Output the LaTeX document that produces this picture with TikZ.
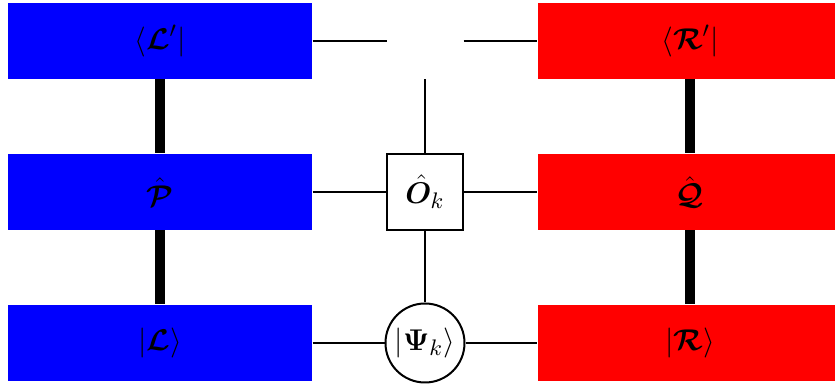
\documentclass[tikz,border=0pt]{standalone}
\usepackage{amsmath,bm}
\begin{document}
\begin{tikzpicture}[x=0.4pt,y=-0.4pt,
  every node/.style={font=\fontsize{12.5}{15}\selectfont},
  lbox/.style={rectangle,fill=blue,draw=none,minimum width=121.6pt,minimum height=30.4pt,inner sep=0pt},
  rbox/.style={rectangle,fill=red,draw=none,minimum width=121.6pt,minimum height=30.4pt,inner sep=0pt},
  opbox/.style={rectangle,draw,line width=0.8pt,fill=white,minimum size=30.4pt,inner sep=0pt},
  ghost/.style={rectangle,draw=none,minimum size=30.4pt,inner sep=0pt},
  psinode/.style={circle,draw,line width=0.8pt,fill=white,minimum size=31.6pt,inner sep=0pt},
  thin/.style={line width=0.8pt},
  bond/.style={line width=4pt}]
\clip (0,0) rectangle (835,385);
\node[lbox] (L1) at (160,41) {$\langle\bm{\mathcal{L}}'|$};
\node[lbox] (L2) at (160,192) {$\hat{\bm{\mathcal{P}}}$};
\node[lbox] (L3) at (160,343) {$|\bm{\mathcal{L}}\rangle$};
\node[rbox] (R1) at (690,41) {$\langle\bm{\mathcal{R}}'|$};
\node[rbox] (R2) at (690,192) {$\hat{\bm{\mathcal{Q}}}$};
\node[rbox] (R3) at (690,343) {$|\bm{\mathcal{R}}\rangle$};
\node[ghost] (T) at (425,41) {};
\node[opbox] (O) at (425,192) {$\hat{\bm{O}}_k$};
\node[psinode] (S) at (425,343) {$|\bm{\Psi}_k\rangle$};
\draw[bond] (L1) -- (L2);
\draw[bond] (L2) -- (L3);
\draw[bond] (R1) -- (R2);
\draw[bond] (R2) -- (R3);
\draw[thin] (L1) -- (T);
\draw[thin] (T) -- (R1);
\draw[thin] (T) -- (O);
\draw[thin] (L2) -- (O);
\draw[thin] (O) -- (R2);
\draw[thin] (O) -- (S);
\draw[thin] (L3) -- (S);
\draw[thin] (S) -- (R3);
\end{tikzpicture}
\end{document}
